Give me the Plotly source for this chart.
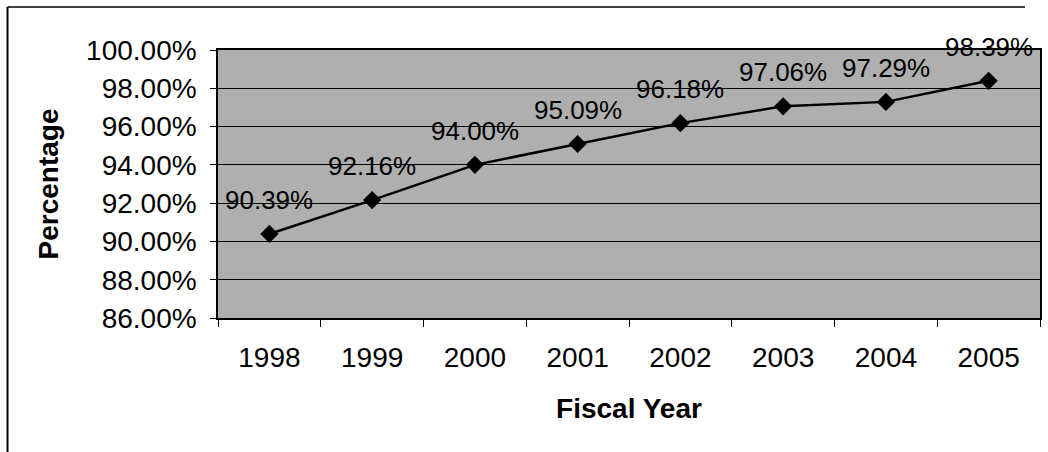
import plotly.graph_objects as go

years = ["1998", "1999", "2000", "2001", "2002", "2003", "2004", "2005"]
values = [90.39, 92.16, 94.00, 95.09, 96.18, 97.06, 97.29, 98.39]
labels = ["90.39%", "92.16%", "94.00%", "95.09%", "96.18%", "97.06%", "97.29%", "98.39%"]
y_ticks = [86, 88, 90, 92, 94, 96, 98, 100]
y_tick_labels = ["86.00%", "88.00%", "90.00%", "92.00%", "94.00%", "96.00%", "98.00%", "100.00%"]

FONT = "Liberation Sans, Arial, sans-serif"
idx = list(range(len(years)))
bounds = [i - 0.5 for i in range(len(years) + 1)]

fig = go.Figure()
fig.add_trace(go.Scatter(
    x=idx, y=values, mode="lines+markers",
    line=dict(color="black", width=2.5),
    marker=dict(symbol="diamond", size=14, color="black"),
    showlegend=False, cliponaxis=False,
))

for i, v, t in zip(idx, values, labels):
    fig.add_annotation(x=i, y=v, text=t, showarrow=False, yshift=34,
                       font=dict(family=FONT, size=26, color="black"))

L, R, T, B = 218, 6, 50, 134
W, H = 1048, 452
pw = W - L - R
ph = H - T - B

fig.update_layout(
    width=W, height=H,
    margin=dict(l=L, r=R, t=T, b=B),
    paper_bgcolor="white",
    plot_bgcolor="#afafaf",
    font=dict(family=FONT, color="black"),
    xaxis=dict(
        range=[-0.5, len(years) - 0.5], tickmode="array", tickvals=idx, ticktext=years,
        ticks="", ticklabelstandoff=14, tickangle=0,
        minor=dict(tickmode="array", tickvals=bounds, ticks="outside", ticklen=7,
                   tickcolor="black", tickwidth=1, showgrid=False),
        showline=True, linecolor="black", linewidth=1.5,
        mirror=True, showgrid=False, zeroline=False,
        tickfont=dict(size=28, family=FONT),
        title=dict(text="<b>Fiscal Year</b>", font=dict(size=28, family=FONT), standoff=26),
    ),
    yaxis=dict(
        range=[86, 100], tickvals=y_ticks, ticktext=y_tick_labels,
        ticks="outside", ticklen=6, tickcolor="black", ticklabelstandoff=8,
        showline=True, linecolor="black", linewidth=1.5, mirror=True,
        showgrid=True, gridcolor="black", gridwidth=1.2, zeroline=False,
        tickfont=dict(size=28, family=FONT),
        title=dict(text="<b>Percentage</b>", font=dict(size=28, family=FONT), standoff=19),
    ),
)

# outer chart frame (left and top edges)
x_left = (7 - L) / pw
y_top = (H - 7 - B) / ph
fig.add_shape(type="line", xref="paper", yref="paper",
              x0=x_left, x1=x_left, y0=(H - 460 - B) / ph, y1=y_top,
              line=dict(color="black", width=2))
fig.add_shape(type="line", xref="paper", yref="paper",
              x0=x_left, x1=(1027 - L) / pw, y0=y_top, y1=y_top,
              line=dict(color="black", width=1.5))

fig.write_html("out.html")
